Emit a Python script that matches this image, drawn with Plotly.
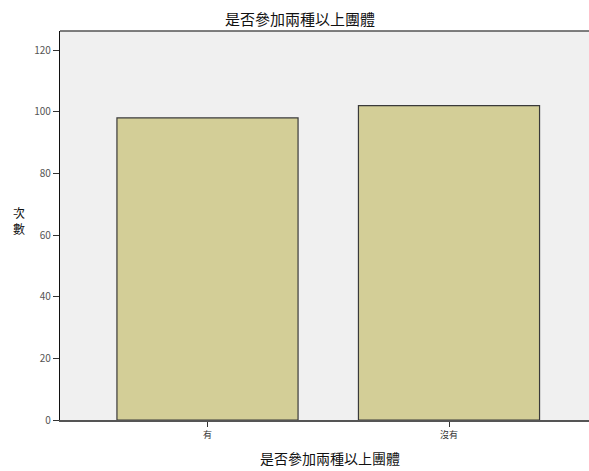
import plotly.graph_objects as go

categories = ["有", "沒有"]
counts = [98, 102]
y_ticks = [0, 20, 40, 60, 80, 100, 120]
title_text = "是否參加兩種以上團體"
y_title = "次<br>數"

font_family = "Noto Sans CJK TC, Noto Sans CJK SC, sans-serif"

# plot area in pixels: x 60..600 (page clipped at 589), y 31..420
FIG_W, FIG_H = 600, 471
L, R, T, B = 60, 600, 31, 420
PW, PH = R - L, B - T
# category spacing in pixels and position of first category centre
SPACING, C0 = 241.5, 207.5
x_range = [(L - C0) / SPACING, (R - C0) / SPACING]


def px(x):
    return (x - L) / PW


def py(y):
    return (B - y) / PH


fig = go.Figure()
fig.add_trace(go.Bar(
    x=[0, 1],
    y=counts,
    width=0.75,
    marker=dict(color="#d3ce97", line=dict(color="#3a3a3a", width=1.2)),
))

annotations = [
    dict(text=title_text, x=px(300), y=py(18), xref="paper", yref="paper",
         showarrow=False, xanchor="center", yanchor="middle",
         font=dict(size=15, color="#111")),
    dict(text=title_text, x=px(330), y=py(458), xref="paper", yref="paper",
         showarrow=False, xanchor="center", yanchor="middle",
         font=dict(size=14, color="#111")),
    dict(text=y_title, x=px(19), y=py(220), xref="paper", yref="paper",
         showarrow=False, xanchor="center", yanchor="middle", align="center",
         font=dict(size=12, color="#111")),
]

fig.update_layout(
    width=FIG_W, height=FIG_H,
    margin=dict(l=L, r=FIG_W - R, t=T, b=FIG_H - B),
    paper_bgcolor="white",
    plot_bgcolor="#f0f0f0",
    showlegend=False,
    font=dict(family=font_family, color="#222"),
    annotations=annotations,
)

fig.update_xaxes(
    range=x_range,
    tickmode="array", tickvals=[0, 1], ticktext=categories,
    ticks="outside", ticklen=5, tickcolor="#333", tickwidth=1,
    tickfont=dict(size=9, color="#333"),
    showgrid=False, zeroline=False,
    showline=True, linecolor="#555", linewidth=1.5, mirror=False,
)
fig.update_yaxes(
    range=[0, 126.2],
    tickmode="array", tickvals=y_ticks,
    ticks="outside", ticklen=6, tickcolor="#333", tickwidth=1,
    tickfont=dict(size=10, color="#555"),
    showgrid=False, zeroline=False,
    showline=True, linecolor="#111", linewidth=1.2,
)
# top border line
fig.add_shape(type="line", xref="paper", yref="paper", x0=0, x1=1, y0=1, y1=1,
              line=dict(color="#555", width=1.5))

fig.write_html("out.html", config={"displayModeBar": False},
               post_script="document.body.style.margin='0px';document.body.style.padding='0px';document.body.style.overflow='hidden';")
